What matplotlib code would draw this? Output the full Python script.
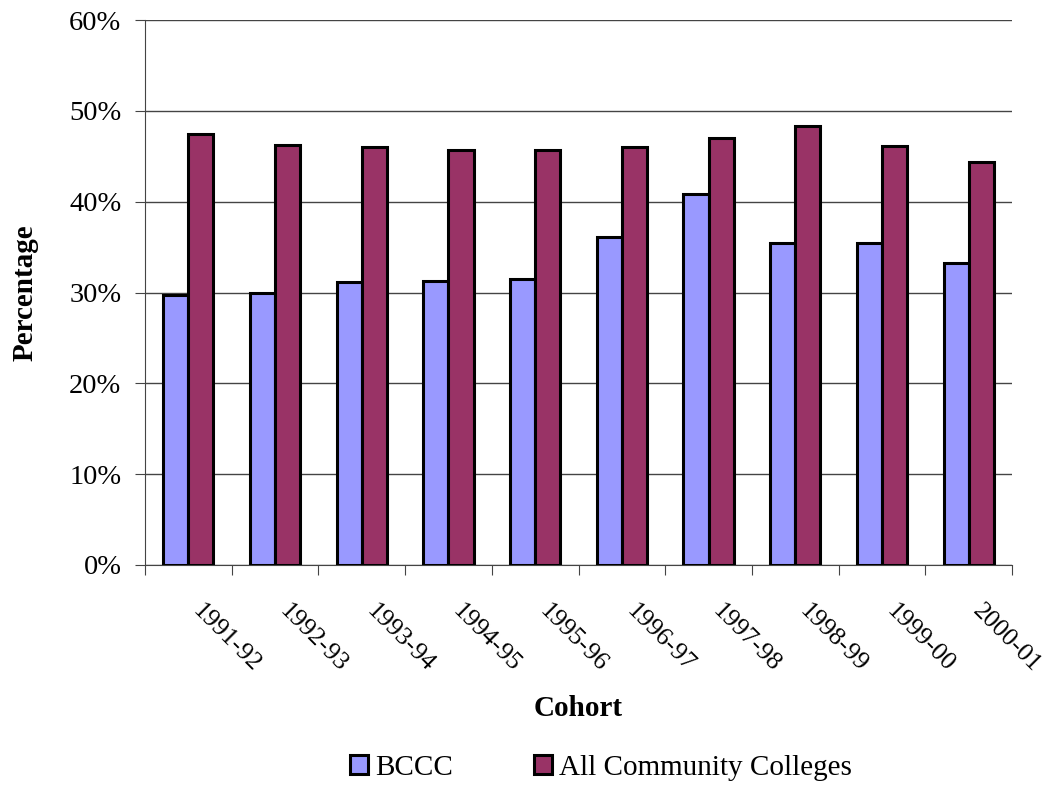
import numpy as np
import matplotlib.pyplot as plt
from matplotlib.ticker import FuncFormatter

cohorts = ['1991-92', '1992-93', '1993-94', '1994-95', '1995-96',
           '1996-97', '1997-98', '1998-99', '1999-00', '2000-01']
bccc = [29.7, 29.9, 31.2, 31.3, 31.5, 36.1, 40.8, 35.5, 35.4, 33.3]
all_cc = [47.4, 46.2, 46.0, 45.7, 45.7, 46.0, 47.0, 48.3, 46.1, 44.4]

plt.rcParams['font.family'] = ['Liberation Serif', 'DejaVu Serif']

fig = plt.figure(figsize=(10.49, 7.86), dpi=100)
ax = fig.add_axes([145/1049, 1-565/786, (1012-145)/1049, (565-20)/786])

x = np.arange(len(cohorts))
w = 0.29
ax.bar(x - w/2, bccc, w, color='#9999FF', edgecolor='black', linewidth=2.2,
       label='BCCC', zorder=3)
ax.bar(x + w/2, all_cc, w, color='#993366', edgecolor='black', linewidth=2.2,
       label='All Community Colleges', zorder=3)

ax.set_xlim(-0.5, len(cohorts) - 0.5)
ax.set_ylim(0, 60)
ax.set_yticks(np.arange(0, 61, 10))
ax.yaxis.set_major_formatter(FuncFormatter(lambda v, p: f'{v:.0f}%'))
ax.grid(axis='y', color='#444444', linewidth=1, zorder=0)

# ticks on category boundaries, labels at centres
ax.set_xticks(np.arange(-0.5, len(cohorts)), minor=False)
ax.set_xticklabels([])
ax.set_xticks(x, minor=True)
ax.set_xticklabels(cohorts, minor=True, rotation=-45, ha='left', va='top',
                   fontsize=18.5)
ax.tick_params(axis='x', which='minor', length=0, pad=25)
ax.tick_params(axis='x', which='major', length=7, direction='out', color='#444444')
ax.tick_params(axis='y', length=7, direction='out', labelsize=20.5, pad=10,
               color='#444444')

for s in ['top', 'right']:
    ax.spines[s].set_visible(False)
for s in ['left', 'bottom']:
    ax.spines[s].set_color('#444444')

ax.set_xlabel('Cohort', fontsize=21, fontweight='bold', labelpad=14)
ax.set_ylabel('Percentage', fontsize=21, fontweight='bold', labelpad=22)

fig.legend(loc='center', bbox_to_anchor=(601/1049, 1-768/786), ncol=2,
           frameon=False, fontsize=21, handlelength=0.6, handleheight=0.6,
           handletextpad=0.25, columnspacing=2.8)

fig.savefig('out.png', dpi=100)
